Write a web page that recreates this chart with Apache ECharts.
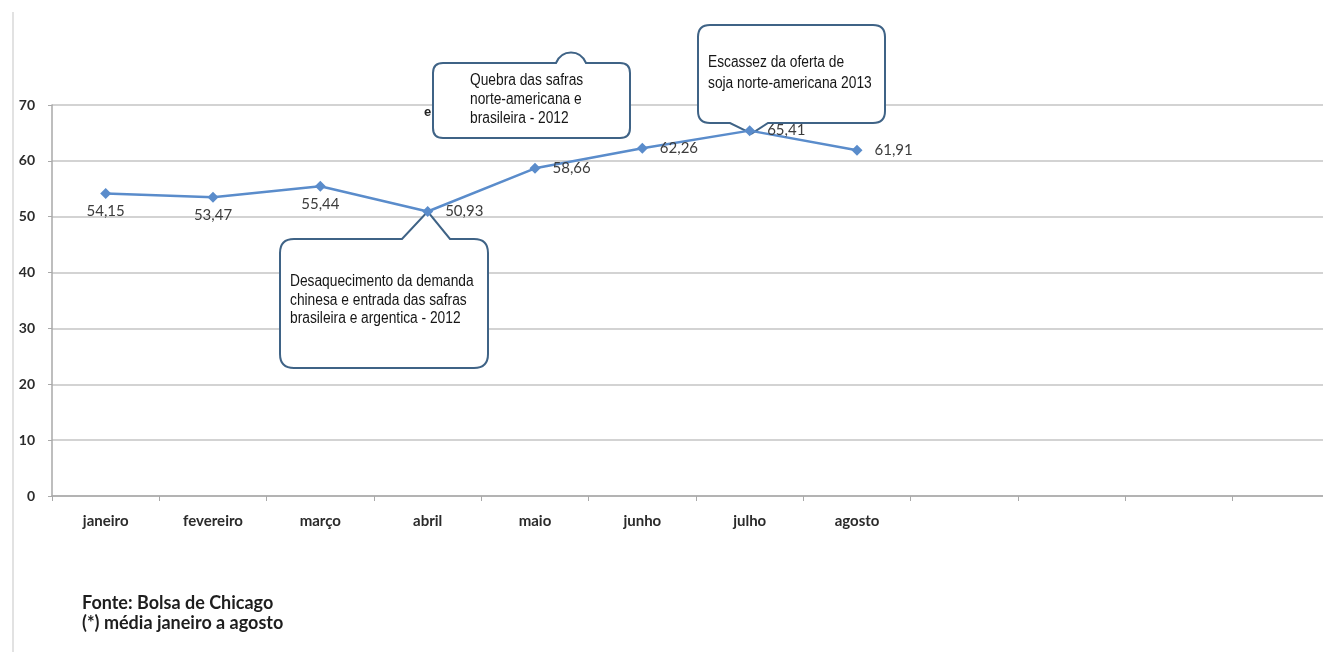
<!DOCTYPE html>
<html>
<head>
<meta charset="utf-8">
<script src="https://cdn.jsdelivr.net/npm/echarts@6/dist/echarts.min.js"></script>
<style>
html,body{margin:0;padding:0;background:#fff;}
#c{width:1323px;height:654px;}
</style>
</head>
<body>
<div id="c"></div>
<script>
// ---- data ----
const categories = ['janeiro','fevereiro','março','abril','maio','junho','julho','agosto','','','',''];
const values = [54.15, 53.47, 55.44, 50.93, 58.66, 62.26, 65.41, 61.91];
const labelSides = ['bottom','bottom','bottom','right','right','right','right','right'];
const yMin = 0, yMax = 70, yStep = 10;
const footer = ['Fonte: Bolsa de Chicago', '(*) média janeiro a agosto'];
const noteQuebra = ['Quebra das safras', 'norte-americana e', 'brasileira - 2012'];
const noteEscassez = ['Escassez da oferta de', 'soja norte-americana 2013'];
const noteDesaq = ['Desaquecimento da demanda', 'chinesa e entrada das safras', 'brasileira e argentica - 2012'];

const fmt = v => v.toFixed(2).replace('.', ',');
const LINE = '#5a8ccb';
const BOX = '#3f6386';
const NOTE_FONT = '16px "Liberation Sans", Arial, sans-serif';
const NOTE_SCALE = 0.86;

const chart = echarts.init(document.getElementById('c'), null, {renderer:'canvas'});

const seriesData = values.map((v, i) => ({
  value: v,
  label: {
    position: labelSides[i],
    distance: labelSides[i] === 'right' ? 12 : 5
  }
}));

function calloutPath(x, y, w, h, r, ptr) {
  let d = `M${x + r} ${y}`;
  if (ptr && ptr.side === 'top') {
    d += ` L${ptr.a} ${y}`;
    if (ptr.bump) d += ` C${ptr.a + 6} ${y - 14} ${ptr.b - 6} ${y - 14} ${ptr.b} ${y}`;
    else d += ` L${ptr.tx} ${ptr.ty} L${ptr.b} ${y}`;
  }
  d += ` L${x + w - r} ${y} Q${x + w} ${y} ${x + w} ${y + r} L${x + w} ${y + h - r} Q${x + w} ${y + h} ${x + w - r} ${y + h}`;
  if (ptr && ptr.side === 'bottom') {
    d += ` L${ptr.b} ${y + h} L${ptr.tx} ${ptr.ty} L${ptr.a} ${y + h}`;
  }
  d += ` L${x + r} ${y + h} Q${x} ${y + h} ${x} ${y + h - r} L${x} ${y + r} Q${x} ${y} ${x + r} ${y} Z`;
  return d;
}
function boxEl(x, y, w, h, r, ptr) {
  return {type: 'path', shape: {pathData: calloutPath(x, y, w, h, r, ptr)},
          style: {fill: '#ffffff', stroke: BOX, lineWidth: 2}};
}
function noteEl(lines, x, yFirst, lh) {
  return {type: 'text', x: x, y: yFirst - lh / 2, scaleX: NOTE_SCALE,
          style: {text: lines.join('\n'), fill: '#161616', font: NOTE_FONT, lineHeight: lh, verticalAlign: 'top'}};
}

function renderCallouts(params, api) {
  const pA = api.coord([3, values[3]]);
  const pJ = api.coord([6, values[6]]);
  return {
    type: 'group',
    children: [
      {type: 'text', x: 424, y: 106, style: {text: 'e', fill: '#222', font: 'bold 13px "Liberation Sans", sans-serif'}},
      boxEl(433, 63, 197, 75, 10, {side: 'top', a: 556, b: 586, bump: true}),
      noteEl(noteQuebra, 470, 81, 19),
      boxEl(698, 25, 187, 98, 12, {side: 'bottom', a: 730, b: 768, tx: pJ[0] + 2, ty: pJ[1] + 3}),
      noteEl(noteEscassez, 708, 63, 21),
      boxEl(280, 239, 208, 129, 14, {side: 'top', a: 402, b: 450, tx: pA[0], ty: pA[1]}),
      noteEl(noteDesaq, 290, 282, 18.5)
    ]
  };
}

chart.setOption({
  animation: false,
  backgroundColor: '#ffffff',
  grid: {left: 52, top: 105, width: 1288, height: 391, containLabel: false, outerBoundsMode: 'none'},
  xAxis: {
    type: 'category',
    data: categories,
    boundaryGap: true,
    axisLine: {lineStyle: {color: '#a9a9a9', width: 1.5}},
    axisTick: {show: true, length: 5, lineStyle: {color: '#a9a9a9'}},
    axisLabel: {interval: 0, margin: 18, color: '#2b2b2b', fontFamily: 'Lato', fontWeight: 'bold', fontSize: 15}
  },
  yAxis: {
    type: 'value',
    min: yMin, max: yMax, interval: yStep,
    axisLine: {show: true, lineStyle: {color: '#a9a9a9', width: 1.5}},
    axisTick: {show: true, length: 4, lineStyle: {color: '#a9a9a9'}},
    splitLine: {lineStyle: {color: '#d3d3d3', width: 2}},
    axisLabel: {margin: 17, color: '#2b2b2b', fontFamily: 'Lato', fontWeight: 'bold', fontSize: 14}
  },
  series: [{
    type: 'custom',
    z: 1,
    silent: true,
    clip: false,
    data: [[0, 0]],
    renderItem: renderCallouts
  }, {
    type: 'line',
    data: seriesData,
    symbol: 'diamond',
    symbolSize: 11,
    z: 3,
    lineStyle: {color: LINE, width: 2.5},
    itemStyle: {color: LINE},
    label: {
      show: true,
      formatter: p => fmt(p.value),
      color: '#3c3c3c',
      fontFamily: 'Lato',
      fontSize: 15
    }
  }],
  graphic: [
    {type: 'line', z: 0, shape: {x1: 13, y1: 12, x2: 13, y2: 652}, style: {stroke: '#d9d9d9', lineWidth: 1.5}},
    {type: 'text', z: 2, x: 82, y: 593, style: {text: footer.join('\n'), fill: '#1e1e1e', font: 'bold 18px Lato', lineHeight: 20, verticalAlign: 'top'}}
  ]
});
</script>
</body>
</html>
